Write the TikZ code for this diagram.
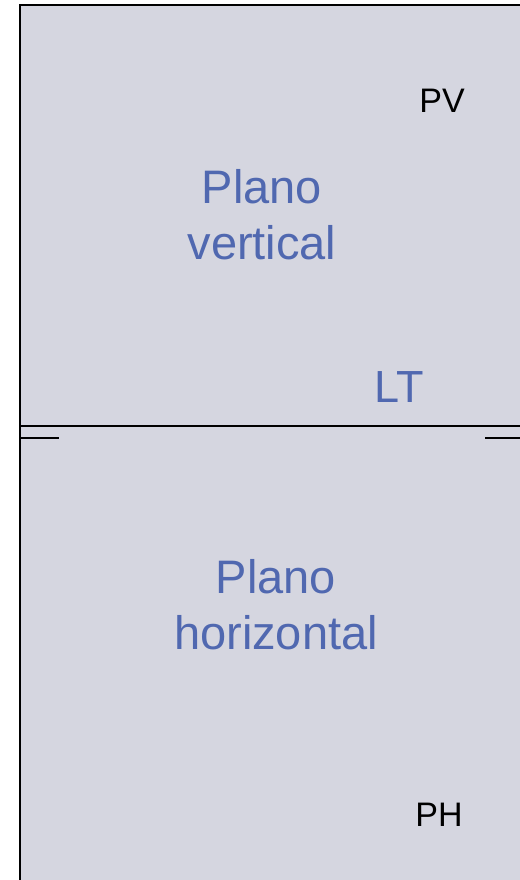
\documentclass[tikz,border=0pt]{standalone}
\usepackage{fontspec}
\setmainfont{Liberation Sans}
\usetikzlibrary{positioning}
\definecolor{planofill}{RGB}{213,214,224}
\definecolor{planotext}{RGB}{80,104,176}

\begin{document}
\begin{tikzpicture}[x=1pt,y=-1pt,line width=2.5pt,
	every node/.style={inner sep=0pt,align=center},
	plano/.style={text=planotext,font=\fontsize{47}{56}\selectfont},
	sigla/.style={text=black,font=\fontsize{34}{40}\selectfont}]
	\useasboundingbox (0,0) rectangle (519,880);
	\fill[planofill] (20,5) rectangle (522,883);
	\coordinate (bl) at (20,882);
	\coordinate (tl) at (20,5);
	\coordinate (tr) at (522,5);
	\coordinate (lt_l) at (20,426);
	\coordinate (lt_r) at (522,426);
	\coordinate (d_l1) at (20,438);
	\coordinate (d_l2) at (59,438);
	\coordinate (d_r1) at (485,438);
	\coordinate (d_r2) at (522,438);
	\node[sigla] (pv) at (442,101) {PV};
	\node[plano] (pvert) at (262,215) {Plano\\vertical};
	\node[plano,font=\fontsize{45}{54}\selectfont] (lt) at (399,387) {LT};
	\node[plano] (phor) at (276,605) {Plano\\horizontal};
	\node[sigla] (ph) at (439,815) {PH};
	\draw (bl) -- (tl) -- (tr);
	\draw (lt_l) -- (lt_r);
	\draw (d_l1) -- (d_l2);
	\draw (d_r1) -- (d_r2);
\end{tikzpicture}
\end{document}
